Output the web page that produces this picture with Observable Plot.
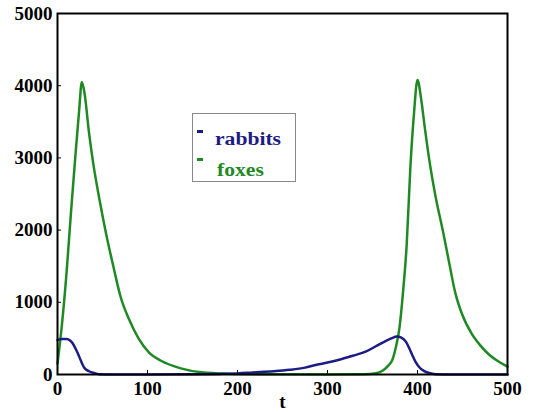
<!DOCTYPE html>
<html><head><meta charset="utf-8">
<script src="https://cdn.jsdelivr.net/npm/d3@7"></script>
<script src="https://cdn.jsdelivr.net/npm/@observablehq/plot@0.6"></script>
<style>
body{margin:0;background:#fff}
#wrap{position:relative;width:535px;height:412px}
#legend{position:absolute;left:192px;top:113px;width:104px;height:69px;border:1px solid #888;box-sizing:border-box;font-family:"Liberation Serif",serif;font-weight:bold;font-size:18px}
#legend .dash{position:absolute;left:4px;width:6px;height:3px}
#legend .lab{position:absolute;white-space:nowrap;transform:scaleX(1.2);transform-origin:0 0;line-height:1}
svg text{font-family:"Liberation Serif",serif;font-weight:bold}
</style></head><body>
<div id="wrap"></div>
<script>
const seriesNames = ["rabbits", "foxes"];
const seriesColors = ["#1c1c84", "#1f8a24"];
const xTicks = [0, 100, 200, 300, 400, 500];
const yTicks = [0, 1000, 2000, 3000, 4000, 5000];

const foxT = [0, 5, 10, 15, 20, 24, 27, 30, 35, 40, 47, 54, 62, 70, 80, 90, 102, 115, 137, 160, 190, 230, 300, 340, 354, 362, 368, 372, 376, 380, 384, 388, 392, 396, 400, 404, 408, 413, 420, 428, 435, 442, 450, 460, 470, 480, 490, 500];
const foxV = [150, 700, 1400, 2250, 3050, 3650, 4050, 3900, 3350, 2900, 2400, 1950, 1500, 1080, 750, 500, 300, 190, 85, 30, 10, 3, 0, 3, 18, 60, 130, 200, 380, 650, 1150, 1800, 2850, 3600, 4080, 3820, 3430, 2980, 2470, 2000, 1560, 1130, 820, 570, 400, 270, 180, 110];

const rabT = [0, 5, 10, 14, 17, 20, 23, 26, 30, 35, 41, 46, 60, 100, 150, 180, 200, 217, 240, 258, 275, 288, 300, 313, 328, 343, 355, 365, 371, 377, 382, 387, 391, 394, 398, 402, 407, 413, 420, 440, 500];
const rabV = [480, 490, 490, 470, 430, 360, 280, 190, 90, 45, 20, 5, 0, 0, 3, 8, 15, 28, 45, 65, 95, 135, 165, 205, 260, 320, 400, 465, 500, 525, 510, 455, 360, 275, 170, 100, 50, 20, 5, 0, 0];

const rabbits = rabT.map((t, i) => ({t, v: rabV[i]}));
const foxes = foxT.map((t, i) => ({t, v: foxV[i]}));

const chart = Plot.plot({
  width: 535, height: 412,
  marginLeft: 57, marginRight: 28, marginTop: 13, marginBottom: 38,
  x: {domain: [0, 500]},
  y: {domain: [0, 5000]},
  style: {fontSize: "19px", fontFamily: "Liberation Serif", color: "black"},
  marks: [
    Plot.axisX(xTicks, {tickSize: -4, tickPadding: 11, tickFormat: d3.format("d"), label: "t", labelAnchor: "center", labelArrow: "none", labelOffset: 33, fontWeight: "bold"}),
    Plot.axisY(yTicks, {tickSize: -4, tickPadding: 9, tickFormat: d3.format("d"), label: null, fontWeight: "bold"}),
    Plot.line(foxes, {x: "t", y: "v", stroke: seriesColors[1], strokeWidth: 2.5, curve: "monotone-x"}),
    Plot.line(rabbits, {x: "t", y: "v", stroke: seriesColors[0], strokeWidth: 2.5, curve: "monotone-x"}),
    Plot.frame({stroke: "black", strokeWidth: 2})
  ]
});
const wrap = document.getElementById("wrap");
wrap.appendChild(chart);

const legend = document.createElement("div");
legend.id = "legend";
seriesNames.forEach((name, i) => {
  const dash = document.createElement("div");
  dash.className = "dash";
  dash.style.top = (i === 0 ? 16 : 44) + "px";
  dash.style.background = seriesColors[i];
  const lab = document.createElement("div");
  lab.className = "lab";
  lab.textContent = name;
  lab.style.top = (i === 0 ? 16 : 47) + "px";
  lab.style.left = (i === 0 ? 22 : 24) + "px";
  lab.style.color = seriesColors[i];
  legend.appendChild(dash);
  legend.appendChild(lab);
});
wrap.appendChild(legend);
</script>
</body></html>
